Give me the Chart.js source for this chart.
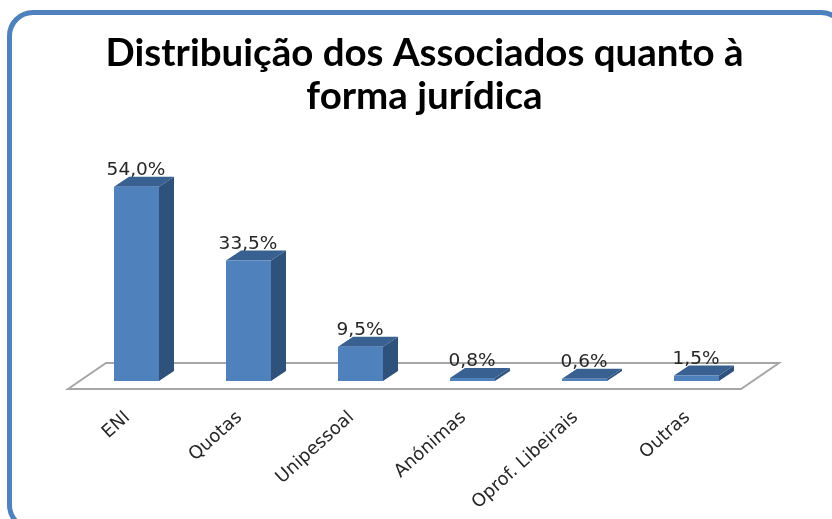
<!DOCTYPE html>
<html>
<head>
<meta charset="utf-8">
<script src="https://cdn.jsdelivr.net/npm/chart.js@4"></script>
<style>
  html, body { margin: 0; background: #fff; }
  #wrap { position: relative; width: 832px; height: 519px; overflow: hidden; }
  #frame { position: absolute; left: 7px; top: 10px; width: 840px; height: 521px; box-sizing: border-box;
    border: 5px solid #4f81bd; border-radius: 26px; }
  canvas { position: absolute; left: 0; top: 0; }
</style>
</head>
<body>
<div id="wrap">
  <div id="frame"></div>
  <canvas id="chart" width="832" height="519"></canvas>
</div>
<script>
  const categories = ['ENI', 'Quotas', 'Unipessoal', 'Anónimas', 'Oprof. Libeirais', 'Outras'];
  const shares = [54.0, 33.5, 9.5, 0.8, 0.6, 1.5];
  const titleLines = ['Distribuição dos Associados quanto à', 'forma jurídica'];
  const DEPTH_X = 15;
  const DEPTH_Y = 10;

  function face(ctx, pts, fill) {
    ctx.beginPath();
    pts.forEach(([x, y], i) => (i ? ctx.lineTo(x, y) : ctx.moveTo(x, y)));
    ctx.closePath();
    ctx.fillStyle = fill;
    ctx.fill();
  }

  // floor and the side/top faces of the bars, Chart.js has no 3d bars
  const bars3d = {
    id: 'bars3d',
    beforeDatasetsDraw(chart) {
      const { ctx } = chart;
      const { x, y } = chart.scales;
      const base = y.getPixelForValue(0);
      const x0 = x.left - 12.5;
      const x1 = x.right - 11.5;
      ctx.save();
      ctx.strokeStyle = '#a6a6a6';
      ctx.lineWidth = 2;
      ctx.beginPath();
      ctx.moveTo(x0, base + 8);
      ctx.lineTo(x0 + 38, base - 18);
      ctx.lineTo(x1 + 38, base - 18);
      ctx.lineTo(x1, base + 8);
      ctx.closePath();
      ctx.stroke();
      chart.getDatasetMeta(0).data.forEach((bar) => {
        const l = bar.x - bar.width / 2;
        const r = bar.x + bar.width / 2;
        face(ctx, [[r, bar.y], [r + DEPTH_X, bar.y - DEPTH_Y], [r + DEPTH_X, base - DEPTH_Y], [r, base]], '#2f527c');
        face(ctx, [[l, bar.y], [l + DEPTH_X, bar.y - DEPTH_Y], [r + DEPTH_X, bar.y - DEPTH_Y], [r, bar.y]], '#386090');
      });
      ctx.restore();
    },
    afterDatasetsDraw(chart) {
      const { ctx } = chart;
      ctx.save();
      ctx.font = '18.5px "DejaVu Sans"';
      ctx.fillStyle = '#262626';
      ctx.textAlign = 'center';
      ctx.textBaseline = 'alphabetic';
      chart.getDatasetMeta(0).data.forEach((bar, i) => {
        const label = shares[i].toFixed(1).replace('.', ',') + '%';
        ctx.fillText(label, bar.x - 0.5, bar.y - 12);
      });
      ctx.restore();
    },
  };

  new Chart(document.getElementById('chart'), {
    type: 'bar',
    data: {
      labels: categories,
      datasets: [{
        data: shares,
        backgroundColor: '#4f81bd',
        barPercentage: 45 / 112,
        categoryPercentage: 1,
      }],
    },
    options: {
      responsive: false,
      animation: false,
      layout: { padding: { left: 17, right: 0, top: 0, bottom: 0 } },
      plugins: {
        legend: { display: false },
        tooltip: { enabled: false },
        title: {
          display: true,
          text: titleLines,
          color: '#000',
          font: { family: 'Lato', size: 38.5, weight: 'bold', lineHeight: 1.12 },
          padding: { top: 32, bottom: 47 },
        },
      },
      scales: {
        x: {
          grid: { display: false },
          border: { display: false },
          ticks: {
            autoSkip: false,
            minRotation: 42,
            maxRotation: 42,
            padding: 18,
            labelOffset: -9,
            color: '#262626',
            font: { family: 'DejaVu Sans', size: 18 },
          },
          afterFit(scale) { scale.height = 138; },
        },
        y: {
          min: 0,
          max: 60,
          grid: { display: false },
          border: { display: false },
          ticks: { display: false },
          afterFit(scale) { scale.width = 63.5; },
        },
        y2: {
          position: 'right',
          grid: { display: false },
          border: { display: false },
          ticks: { display: false },
          afterFit(scale) { scale.width = 79.5; },
        },
      },
    },
    plugins: [bars3d],
  });
</script>
</body>
</html>
